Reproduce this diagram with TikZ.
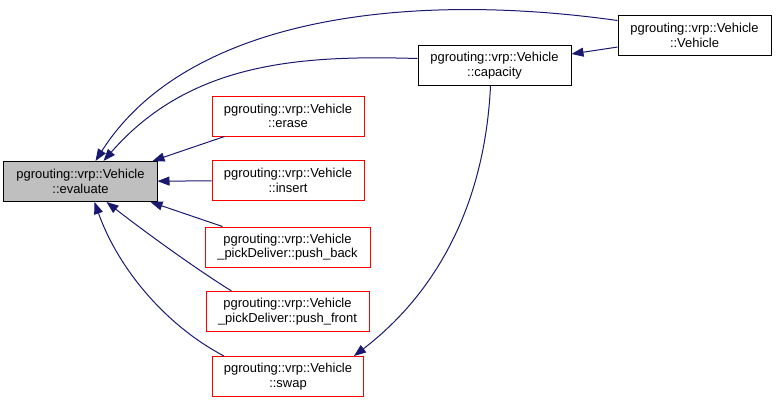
\documentclass[tikz,border=0pt]{standalone}
\usepackage{fontspec}
\setmainfont{Liberation Sans}
\usetikzlibrary{arrows.meta}
\definecolor{edgecol}{HTML}{191970}
\definecolor{boxred}{HTML}{FF0000}
\definecolor{grayfill}{HTML}{BFBFBF}
\begin{document}
\begin{tikzpicture}[x=1bp,y=-1bp,
  box/.style={draw, line width=1bp, minimum height=40bp, inner sep=0pt, align=center,
    font=\fontsize{13}{14.5}\selectfont, fill=white},
  redbox/.style={box, draw=boxred},
  edge/.style={draw=edgecol, line width=1bp, -{Triangle[length=12bp,width=9bp]}}]
\path[use as bounding box] (0,0) rectangle (776,404);

\node[box, fill=grayfill, minimum width=153bp] (evaluate) at (80.5,181.5) {pgrouting::vrp::Vehicle\\::evaluate};
\node[box, minimum width=153bp] (vehicle) at (694.5,35.5) {pgrouting::vrp::Vehicle\\::Vehicle};
\node[box, minimum width=153bp] (capacity) at (494.5,65.5) {pgrouting::vrp::Vehicle\\::capacity};
\node[redbox, minimum width=152bp] (erase) at (288,116) {pgrouting::vrp::Vehicle\\::erase};
\node[redbox, minimum width=152bp] (insert) at (288,180.5) {pgrouting::vrp::Vehicle\\::insert};
\node[redbox, minimum width=165bp] (pushback) at (287.5,247) {pgrouting::vrp::Vehicle\\\_pickDeliver::push\_back};
\node[redbox, minimum width=163bp] (pushfront) at (287.5,311.5) {pgrouting::vrp::Vehicle\\\_pickDeliver::push\_front};
\node[redbox, minimum width=151bp] (swap) at (288,376.5) {pgrouting::vrp::Vehicle\\::swap};

\draw[edge] ([yshift=15bp]vehicle.west) .. controls (400,-10) and (185,20) .. ([xshift=15bp]evaluate.north);
\draw[edge] ([yshift=7bp]capacity.west) .. controls (300,55) and (190,62) .. ([xshift=23bp]evaluate.north);
\draw[edge] ([xshift=13bp]erase.south west) -- ([xshift=-5bp]evaluate.north east);
\draw[edge] (insert) -- (evaluate);
\draw[edge] ([xshift=18bp]pushback.north west) -- ([xshift=-7bp]evaluate.south east);
\draw[edge] ([xshift=26bp]pushfront.north west) .. controls (190,265) and (140,228) .. ([xshift=26bp]evaluate.south);
\draw[edge] ([xshift=12bp]swap.north west) .. controls (165,325) and (118,268) .. ([xshift=14bp]evaluate.south);
\draw[edge] (vehicle) -- (capacity);
\draw[edge] ([xshift=-4bp]capacity.south) .. controls (485,200) and (440,290) .. ([xshift=-10bp]swap.north east);
\end{tikzpicture}
\end{document}
